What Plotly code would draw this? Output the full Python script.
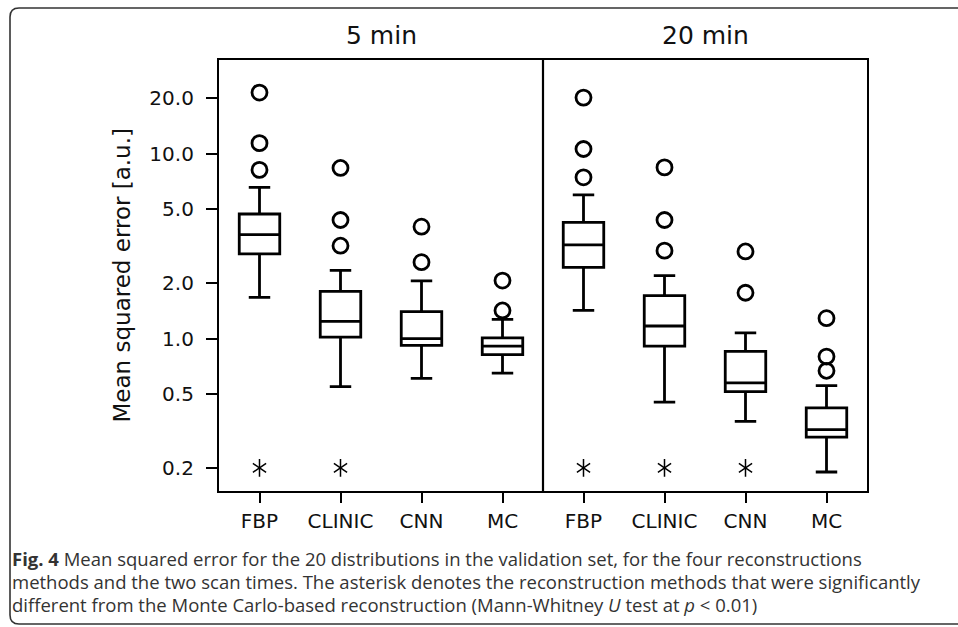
import plotly.graph_objects as go
from plotly.subplots import make_subplots
import math

# ---------------- data ----------------
categories = ["FBP", "CLINIC", "CNN", "MC"]
scan_times = ["5 min", "20 min"]
positions = [1, 2, 3, 4]

# 5 min
lower_5 = [1.67, 0.55, 0.61, 0.65]
q1_5 = [2.87, 1.02, 0.92, 0.82]
median_5 = [3.65, 1.24, 1.00, 0.91]
q3_5 = [4.72, 1.80, 1.40, 1.01]
upper_5 = [6.57, 2.34, 2.05, 1.27]
outliers_5 = [[21.4, 11.4, 8.17], [8.37, 4.38, 3.18], [4.03, 2.59], [2.06, 1.42]]
signif_5 = [True, True, False, False]

# 20 min
lower_20 = [1.42, 0.453, 0.357, 0.19]
q1_20 = [2.43, 0.91, 0.517, 0.293]
median_20 = [3.21, 1.17, 0.576, 0.322]
q3_20 = [4.25, 1.71, 0.854, 0.422]
upper_20 = [5.98, 2.19, 1.073, 0.557]
outliers_20 = [[20.1, 10.6, 7.45], [8.43, 4.38, 2.99], [2.96, 1.77], [1.29, 0.80, 0.67]]
signif_20 = [True, True, True, False]

asterisk_level = 0.2
ytick_vals = [0.2, 0.5, 1.0, 2.0, 5.0, 10.0, 20.0]
ytick_text = ["0.2", "0.5", "1.0", "2.0", "5.0", "10.0", "20.0"]
y_min, y_max = 0.150, 32.1

caption_lines = [
    "<b>Fig. 4</b> Mean squared error for the 20 distributions in the validation set, for the four reconstructions",
    "methods and the two scan times. The asterisk denotes the reconstruction methods that were significantly",
    "different from the Monte Carlo-based reconstruction (Mann-Whitney <i>U</i> test at <i>p</i> &lt; 0.01)",
]
y_title = "Mean squared error [a.u.]"

# ---------------- layout geometry (pixels) ----------------
W, H = 958, 627
L, T = 219, 60
pw, ph = 867 - 219, 491 - 60
R, B = W - L - pw, H - T - ph


def px_x(px):
    return (px - L) / pw


def px_y(py):
    return (T + ph - py) / ph


fig = make_subplots(rows=1, cols=2, shared_yaxes=True, horizontal_spacing=0)

panels = [
    (lower_5, q1_5, median_5, q3_5, upper_5, outliers_5, signif_5),
    (lower_20, q1_20, median_20, q3_20, upper_20, outliers_20, signif_20),
]

for col, (lo, q1, md, q3, up, outs, sig) in enumerate(panels, start=1):
    fig.add_trace(go.Box(
        x=positions, q1=q1, median=md, q3=q3, lowerfence=lo, upperfence=up,
        boxpoints=False, width=0.5, whiskerwidth=0.53,
        line=dict(color="black", width=2.8), fillcolor="white",
        showlegend=False, hoverinfo="skip",
    ), row=1, col=col)
    ox, oy = [], []
    for p, vals in zip(positions, outs):
        for v in vals:
            ox.append(p)
            oy.append(v)
    fig.add_trace(go.Scatter(
        x=ox, y=oy, mode="markers",
        marker=dict(symbol="circle-open", size=15, color="black", line=dict(width=2.8)),
        showlegend=False, hoverinfo="skip",
    ), row=1, col=col)
    sx = [p for p, s in zip(positions, sig) if s]
    sy = [asterisk_level for s in sig if s]
    for sym in ["y-up-open", "y-down-open"]:
        fig.add_trace(go.Scatter(
            x=sx, y=sy, mode="markers",
            marker=dict(symbol=sym, size=11, color="black", line=dict(width=1.5, color="black")),
            showlegend=False, hoverinfo="skip",
        ), row=1, col=col)

axis_common = dict(showline=True, linecolor="black", linewidth=2.2,
                   showgrid=False, zeroline=False)

for col in (1, 2):
    fig.update_xaxes(range=[0.5, 4.5], tickvals=positions, ticktext=categories,
                     ticks="outside", ticklen=10, tickwidth=2.2, tickcolor="black",
                     tickfont=dict(family="DejaVu Sans", size=20, color="#111"),
                     ticklabelstandoff=1, mirror=True,
                     **axis_common, row=1, col=col)

fig.update_yaxes(type="log", range=[math.log10(y_min), math.log10(y_max)],
                 tickvals=ytick_vals, ticktext=ytick_text,
                 ticks="outside", ticklen=11, tickwidth=2.2, tickcolor="black",
                 tickfont=dict(family="DejaVu Sans", size=20, color="#111"),
                 ticklabelstandoff=8, mirror=False,
                 **axis_common, row=1, col=1)
fig.update_yaxes(type="log", range=[math.log10(y_min), math.log10(y_max)],
                 showticklabels=False, ticks="", mirror=False, side="right",
                 **axis_common, row=1, col=2)

annotations = []
for i, t in enumerate(scan_times):
    annotations.append(dict(
        text=t, xref="paper", yref="paper", x=0.25 + 0.5 * i, y=px_y(36),
        xanchor="center", yanchor="middle", showarrow=False,
        font=dict(family="DejaVu Sans", size=25, color="#111")))
annotations.append(dict(
    text=y_title, xref="paper", yref="paper", x=px_x(121), y=0.5, textangle=-90,
    xanchor="center", yanchor="middle", showarrow=False,
    font=dict(family="DejaVu Sans", size=23, color="#111")))
for i, line in enumerate(caption_lines):
    annotations.append(dict(
        text=line, xref="paper", yref="paper", x=px_x(10), y=px_y(558 + 23 * i),
        xanchor="left", yanchor="middle", showarrow=False, align="left",
        font=dict(family="Open Sans", size=18.5, color="#333")))

# rounded frame around figure (extends past right edge)
fx0, fx1 = px_x(10), px_x(990)
fy0, fy1 = px_y(624), px_y(8)
rx, ry = 9 / pw, 9 / ph
frame_path = (f"M {fx1},{fy1} L {fx0 + rx},{fy1} Q {fx0},{fy1} {fx0},{fy1 - ry} "
              f"L {fx0},{fy0 + ry} Q {fx0},{fy0} {fx0 + rx},{fy0} L {fx1},{fy0}")

fig.update_layout(
    width=W, height=H,
    margin=dict(l=L, r=R, t=T, b=B),
    paper_bgcolor="white", plot_bgcolor="rgba(0,0,0,0)",
    annotations=annotations,
    shapes=[
        dict(type="path", path=frame_path, xref="paper", yref="paper",
             line=dict(color="#333", width=1.6)),
        dict(type="line", xref="paper", yref="paper", x0=0.5, x1=0.5, y0=0, y1=1,
             line=dict(color="black", width=2.2)),
    ],
    boxgap=0, boxgroupgap=0,
)

fig.write_html(
    "out.html",
    config={"displayModeBar": False},
    post_script="document.body.style.margin='0px';document.body.style.overflow='hidden';",
)
